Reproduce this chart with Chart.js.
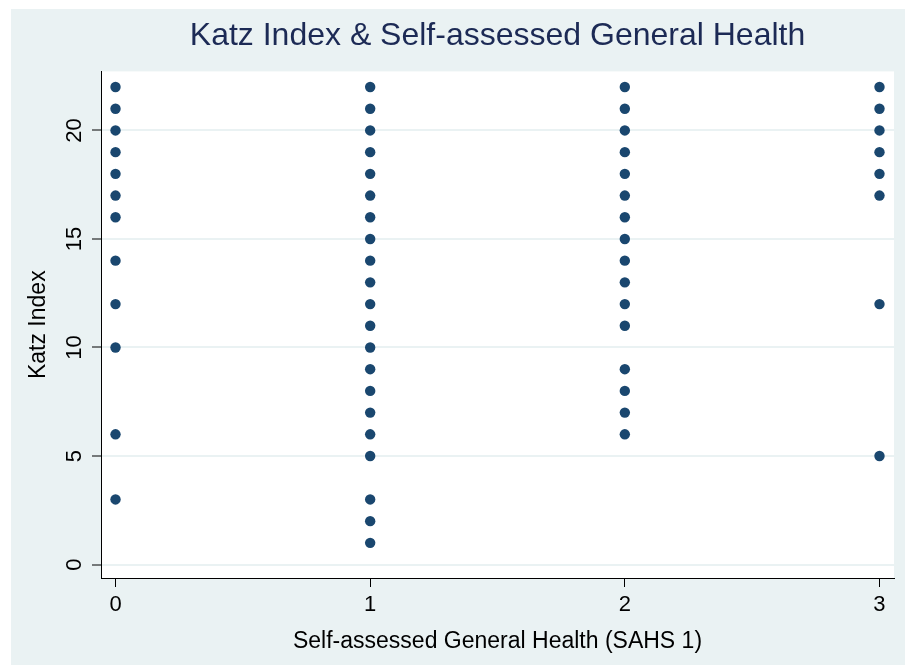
<!DOCTYPE html>
<html>
<head>
<meta charset="utf-8">
<title>Katz Index & Self-assessed General Health</title>
<script src="https://cdn.jsdelivr.net/npm/chart.js@4/dist/chart.umd.min.js"></script>
<style>
    html, body { margin: 0; padding: 0; background: #ffffff; }
    #wrap { position: absolute; left: 11px; top: 9px; width: 894px; height: 656px; }
    #katzChart { background: #eaf2f3; }
</style>
</head>
<body>
<div id="wrap"><canvas id="katzChart" width="894" height="656"></canvas></div>
<script>
// DATA
const sahsLevels = [0, 1, 2, 3];
const katzSahs0 = [22, 21, 20, 19, 18, 17, 16, 14, 12, 10, 6, 3];
const katzSahs1 = [22, 21, 20, 19, 18, 17, 16, 15, 14, 13, 12, 11, 10, 9, 8, 7, 6, 5, 3, 2, 1];
const katzSahs2 = [22, 21, 20, 19, 18, 17, 16, 15, 14, 13, 12, 11, 9, 8, 7, 6];
const katzSahs3 = [22, 21, 20, 19, 18, 17, 12, 5];
const xTicks = [0, 1, 2, 3];
const yTicks = [0, 5, 10, 15, 20];

const FONT = "'Liberation Sans', Arial, Helvetica, sans-serif";

/* -------------------------
   BUILD POINTS
--------------------------*/

const columns = [katzSahs0, katzSahs1, katzSahs2, katzSahs3];
const points = [];

columns.forEach((col, i) => {
    col.forEach(v => {
        points.push({ x: sahsLevels[i], y: v });
    });
});

/* -------------------------
   PLUGINS
--------------------------*/

// white plot region
const plotBackground = {
    id: "plotBackground",
    beforeDraw(chart) {
        const { ctx, chartArea } = chart;
        ctx.save();
        ctx.fillStyle = "#ffffff";
        ctx.fillRect(chartArea.left, chartArea.top,
            chartArea.right - chartArea.left, chartArea.bottom - chartArea.top);
        ctx.restore();
    }
};

// stata style vertical y tick labels
const verticalYLabels = {
    id: "verticalYLabels",
    afterDraw(chart) {
        const { ctx } = chart;
        const yScale = chart.scales.y;
        ctx.save();
        ctx.fillStyle = "#000000";
        ctx.font = "22px " + FONT;
        ctx.textAlign = "center";
        ctx.textBaseline = "middle";
        yScale.ticks.forEach(t => {
            const y = yScale.getPixelForValue(t.value);
            ctx.save();
            ctx.translate(64, y);
            ctx.rotate(-Math.PI / 2);
            ctx.fillText(String(t.value), 0, 0);
            ctx.restore();
        });
        ctx.restore();
    }
};

/* -------------------------
   CHART
--------------------------*/

new Chart(document.getElementById("katzChart"), {
    type: "scatter",
    data: {
        datasets: [{
            label: "Katz Index",
            data: points,
            backgroundColor: "#1a476f",
            borderWidth: 0,
            pointRadius: 5.2,
            pointHoverRadius: 5.2
        }]
    },
    options: {
        responsive: false,
        animation: false,
        layout: {
            padding: { left: 0, right: 11, top: 0, bottom: 0 }
        },
        plugins: {
            legend: { display: false },
            tooltip: { enabled: false },
            title: {
                display: true,
                text: "Katz Index & Self-assessed General Health",
                color: "#1c2a55",
                fullSize: false,
                font: { family: FONT, size: 32, weight: "normal" },
                padding: { top: 8, bottom: 16 }
            }
        },
        scales: {
            x: {
                type: "linear",
                min: -0.057,
                max: 3.057,
                afterBuildTicks: scale => {
                    scale.ticks = xTicks.map(v => ({ value: v }));
                },
                afterFit: scale => { scale.height = 87; },
                grid: {
                    drawOnChartArea: false,
                    drawTicks: true,
                    tickLength: 9,
                    tickColor: "#000000",
                    tickWidth: 1
                },
                border: { display: true, color: "#000000", width: 1 },
                ticks: {
                    color: "#000000",
                    padding: 5,
                    maxRotation: 0,
                    font: { family: FONT, size: 22 }
                },
                title: {
                    display: true,
                    text: "Self-assessed General Health (SAHS 1)",
                    color: "#000000",
                    font: { family: FONT, size: 23 },
                    padding: { top: 0, bottom: 10 }
                }
            },
            y: {
                type: "linear",
                min: -0.62,
                max: 22.72,
                afterBuildTicks: scale => {
                    scale.ticks = yTicks.map(v => ({ value: v }));
                },
                afterFit: scale => { scale.width = 90; },
                grid: {
                    color: "#eaf2f3",
                    lineWidth: 2,
                    drawTicks: true,
                    tickLength: 9,
                    tickColor: "#000000",
                    tickWidth: 1
                },
                border: { display: true, color: "#000000", width: 1 },
                ticks: { display: false },
                title: {
                    display: true,
                    text: "Katz Index",
                    color: "#000000",
                    font: { family: FONT, size: 23 },
                    padding: { top: 14, bottom: 0 }
                }
            }
        }
    },
    plugins: [plotBackground, verticalYLabels]
});
</script>
</body>
</html>
